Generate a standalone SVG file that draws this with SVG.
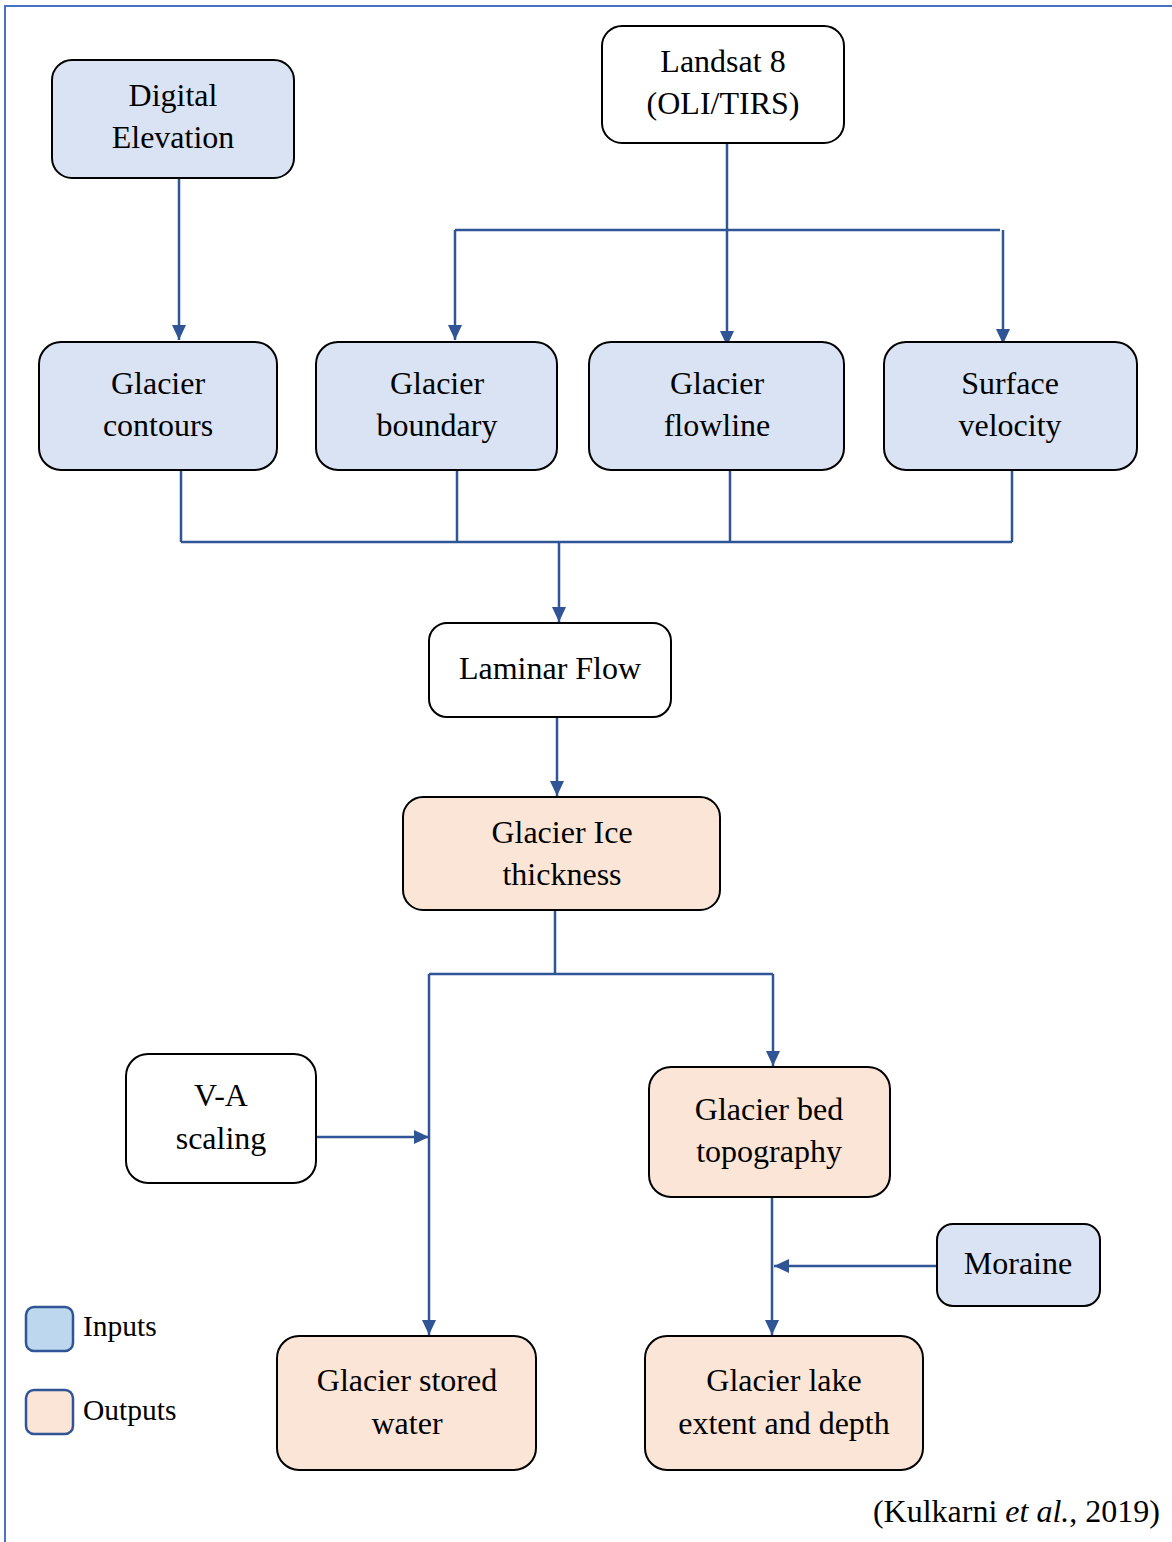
<svg xmlns="http://www.w3.org/2000/svg" width="1172" height="1542" viewBox="0 0 1172 1542">
<defs>
<marker id="ah" markerUnits="userSpaceOnUse" markerWidth="16" markerHeight="16" viewBox="0 0 16 16" refX="15" refY="8" orient="auto">
<path d="M0,1 L15,8 L0,15 Z" fill="#2f5597"/>
</marker>
</defs>
<style>
.blue{fill:#dae3f3;stroke:#000;stroke-width:2}
.white{fill:#fff;stroke:#000;stroke-width:2}
.orange{fill:#fbe5d6;stroke:#000;stroke-width:2}
text{font-family:"Liberation Serif","Times New Roman",serif;font-size:32px;fill:#000;text-anchor:middle}
.c{fill:none;stroke:#2f5597;stroke-width:2.5}
.a{marker-end:url(#ah)}
.leg{text-anchor:start;font-size:29.5px}
</style>
<rect width="1172" height="1542" fill="#fff"/>
<path d="M5,1542 V6 H1172" fill="none" stroke="#4472c4" stroke-width="2"/>

<g id="connectors">
<path class="c a" d="M179,178 V340"/>
<path class="c a" d="M727,143 V346"/>
<path class="c" d="M455,230 H1000"/>
<path class="c a" d="M455,230 V340"/>
<path class="c a" d="M1003,230 V344"/>
<path class="c" d="M181,470 V542 M457,470 V542 M730,470 V542 M1012,470 V542 M181,542 H1012"/>
<path class="c a" d="M559,542 V622"/>
<path class="c a" d="M557,717 V796"/>
<path class="c" d="M555,910 V974 M429,974 H773"/>
<path class="c a" d="M429,974 V1335"/>
<path class="c a" d="M773,974 V1066"/>
<path class="c a" d="M316,1137 H429"/>
<path class="c a" d="M772,1197 V1335"/>
<path class="c a" d="M937,1266 H774"/>
</g>

<g id="digital-elevation"><rect class="blue" x="52" y="60" width="242" height="118" rx="20"/><text x="173" y="106">Digital</text><text x="173" y="148">Elevation</text></g>
<g id="landsat"><rect class="white" x="602" y="26" width="242" height="117" rx="20"/><text x="723" y="72">Landsat 8</text><text x="723" y="114">(OLI/TIRS)</text></g>
<g id="glacier-contours"><rect class="blue" x="39" y="342" width="238" height="128" rx="22"/><text x="158" y="394">Glacier</text><text x="158" y="436">contours</text></g>
<g id="glacier-boundary"><rect class="blue" x="316" y="342" width="241" height="128" rx="22"/><text x="437" y="394">Glacier</text><text x="437" y="436">boundary</text></g>
<g id="glacier-flowline"><rect class="blue" x="589" y="342" width="255" height="128" rx="22"/><text x="717" y="394">Glacier</text><text x="717" y="436">flowline</text></g>
<g id="surface-velocity"><rect class="blue" x="884" y="342" width="253" height="128" rx="22"/><text x="1010" y="394">Surface</text><text x="1010" y="436">velocity</text></g>
<g id="laminar-flow"><rect class="white" x="429" y="623" width="242" height="94" rx="18"/><text x="550" y="679">Laminar Flow</text></g>
<g id="ice-thickness"><rect class="orange" x="403" y="797" width="317" height="113" rx="20"/><text x="562" y="843">Glacier Ice</text><text x="562" y="885">thickness</text></g>
<g id="va-scaling"><rect class="white" x="126" y="1054" width="190" height="129" rx="22"/><text x="221" y="1106">V-A</text><text x="221" y="1149">scaling</text></g>
<g id="bed-topography"><rect class="orange" x="649" y="1067" width="241" height="130" rx="22"/><text x="769" y="1120">Glacier bed</text><text x="769" y="1162">topography</text></g>
<g id="moraine"><rect class="blue" x="937" y="1224" width="163" height="82" rx="16"/><text x="1018" y="1274">Moraine</text></g>
<g id="stored-water"><rect class="orange" x="277" y="1336" width="259" height="134" rx="22"/><text x="407" y="1391">Glacier stored</text><text x="407" y="1434">water</text></g>
<g id="lake-extent"><rect class="orange" x="645" y="1336" width="278" height="134" rx="22"/><text x="784" y="1391">Glacier lake</text><text x="784" y="1434">extent and depth</text></g>

<g id="legend">
<rect x="26" y="1307" width="47" height="44" rx="8" fill="#bdd7ee" stroke="#2f5597" stroke-width="2.5"/>
<text class="leg" x="83" y="1336">Inputs</text>
<rect x="26" y="1390" width="47" height="44" rx="8" fill="#fbe5d6" stroke="#2f5597" stroke-width="2.5"/>
<text class="leg" x="83" y="1420">Outputs</text>
</g>
<text x="1160" y="1522" style="text-anchor:end;font-size:32px">(Kulkarni <tspan font-style="italic">et al.</tspan>, 2019)</text>
</svg>
